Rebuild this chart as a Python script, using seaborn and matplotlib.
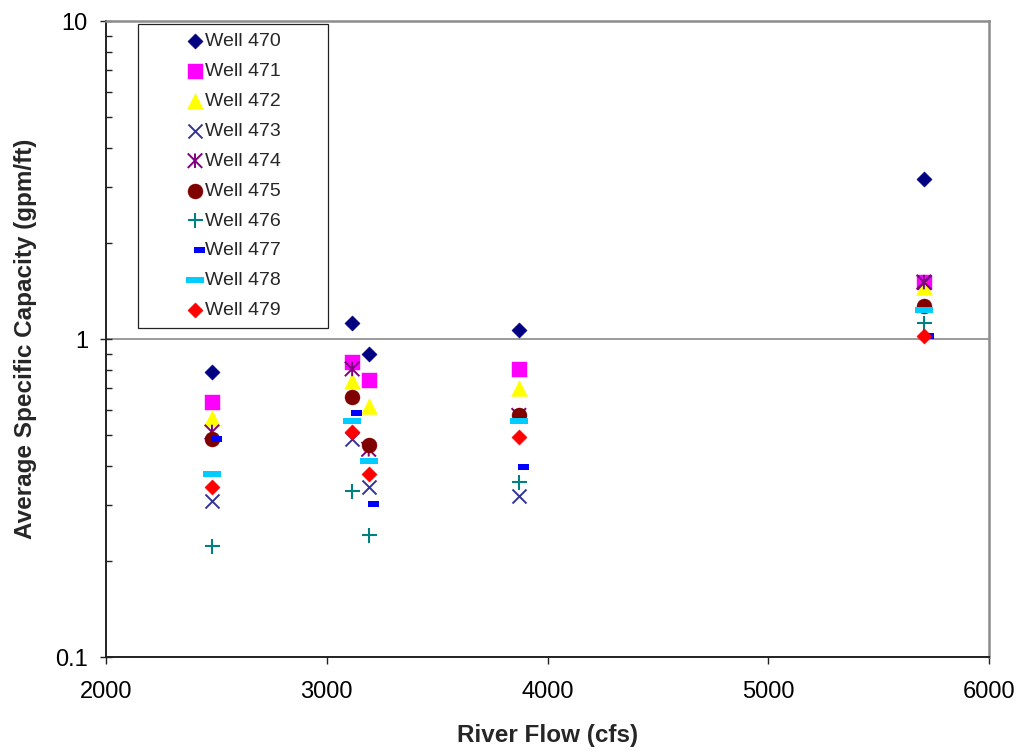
import numpy as np
import matplotlib
matplotlib.use("Agg")
import matplotlib.pyplot as plt
from matplotlib.path import Path
from matplotlib.ticker import FixedLocator, NullFormatter
import seaborn as sns

# River flow (cfs) for each measurement campaign
flow = [2480, 3115, 3190, 3870, 5705]

# Average specific capacity (gpm/ft) per well
well_470 = [0.79, 1.12, 0.90, 1.07, 3.18]
well_471 = [0.635, 0.845, 0.745, 0.805, 1.51]
well_472 = [0.565, 0.74, 0.615, 0.70, 1.46]
well_473 = [0.31, 0.485, 0.342, 0.322, 1.51]
well_474 = [0.51, 0.805, 0.45, 0.575, 1.51]
well_475 = [0.485, 0.656, 0.465, 0.577, 1.27]
well_476 = [0.223, 0.332, 0.242, 0.354, 1.12]
well_477 = [0.485, 0.587, 0.303, 0.397, 1.024]
well_478 = [0.376, 0.551, 0.414, 0.551, 1.236]
well_479 = [0.343, 0.509, 0.377, 0.493, 1.024]

well_names = ["Well 470", "Well 471", "Well 472", "Well 473", "Well 474",
              "Well 475", "Well 476", "Well 477", "Well 478", "Well 479"]
well_values = [well_470, well_471, well_472, well_473, well_474,
               well_475, well_476, well_477, well_478, well_479]

x_ticks = [2000, 3000, 4000, 5000, 6000]
y_ticks = [0.1, 1, 10]
y_tick_labels = ["0.1", "1", "10"]

sns.set_style("ticks")
plt.rcParams["font.family"] = ["Liberation Sans", "DejaVu Sans"]
plt.rcParams["ytick.direction"] = "in"
plt.rcParams["xtick.direction"] = "out"

# Custom marker shapes
asterisk = Path([(-1, -1), (1, 1), (-1, 1), (1, -1), (0, -1), (0, 1)],
                [Path.MOVETO, Path.LINETO, Path.MOVETO, Path.LINETO,
                 Path.MOVETO, Path.LINETO])
short_dash = Path([(-1, -2.7), (9.7, -2.7), (9.7, 2.7), (-1, 2.7), (-1, -2.7)],
                  [Path.MOVETO, Path.LINETO, Path.LINETO, Path.LINETO,
                   Path.CLOSEPOLY])
long_dash = Path([(-8.8, -2.6), (8.8, -2.6), (8.8, 2.6), (-8.8, 2.6), (-8.8, -2.6)],
                 [Path.MOVETO, Path.LINETO, Path.LINETO, Path.LINETO,
                  Path.CLOSEPOLY])

px = 0.72  # points per pixel at dpi=100
styles = [
    # marker, size (pt), colour, kind, line width
    ("D", 10.8 * px, "#000080", "filled", 0.3),
    ("s", 15 * px, "#FF00FF", "filled", 0.3),
    ("^", 16 * px, "#FFFF00", "filled", 0.3),
    ("x", 14 * px, "#333399", "line", 1.4),
    (asterisk, 14.5 * px, "#800080", "path", 1.4),
    ("o", 15 * px, "#800000", "filled", 0.3),
    ("+", 15 * px, "#008080", "line", 1.5),
    (short_dash, 19.4 * px, "#0000FF", "filled", 0.0),
    (long_dash, 17.6 * px, "#00CCFF", "filled", 0.0),
    ("D", 10.8 * px, "#FF0000", "filled", 0.3),
]

fig = plt.figure(figsize=(10.21, 7.51), dpi=100)
ax = fig.add_axes([106 / 1021, 1 - 657 / 751, 883 / 1021, 636 / 751])

for i, (name, vals) in enumerate(zip(well_names, well_values)):
    marker, size, color, kind, lw = styles[i]
    kws = dict(marker=marker, s=size ** 2, linewidth=lw, label=name, zorder=3 + i)
    if kind == "filled":
        kws.update(color=color, edgecolor=color)
    elif kind == "line":
        kws.update(color=color)
    else:
        kws.update(facecolor="none", edgecolor=color)
    sns.scatterplot(x=flow, y=vals, ax=ax, legend=False, **kws)

ax.set_yscale("log")
ax.set_xlim(2000, 6000)
ax.set_ylim(0.1, 10)

ax.xaxis.set_major_locator(FixedLocator(x_ticks))
ax.set_xticklabels([str(t) for t in x_ticks])
ax.yaxis.set_major_locator(FixedLocator(y_ticks))
ax.set_yticklabels(y_tick_labels)
minor = [m * 10.0 ** e for e in (-1, 0) for m in range(2, 10)]
ax.yaxis.set_minor_locator(FixedLocator(minor))
ax.yaxis.set_minor_formatter(NullFormatter())

ax.tick_params(axis="x", which="major", direction="out", length=5, width=1,
               color="#222222", labelsize=17, pad=12, labelcolor="black")
ax.tick_params(axis="y", which="major", direction="inout", length=8, width=1,
               color="#222222", labelsize=17, pad=9, labelcolor="black")
ax.tick_params(axis="y", which="minor", direction="in", length=4, width=1,
               color="#222222", left=True, right=False)

ax.grid(False)
ax.yaxis.grid(True, which="major", color="#808080", linewidth=1.1)

for side in ("left", "bottom"):
    ax.spines[side].set_color("#222222")
    ax.spines[side].set_linewidth(1.4)
for side in ("top", "right"):
    ax.spines[side].set_color("#8c8c8c")
    ax.spines[side].set_linewidth(1.8)
    ax.spines[side].set_visible(True)

ax.set_xlabel("River Flow (cfs)", fontsize=17.5, fontweight="bold")
ax.set_ylabel("Average Specific Capacity (gpm/ft)", fontsize=17.5, fontweight="bold")
ax.xaxis.set_label_coords(0.5, -0.106)
ax.yaxis.set_label_coords(-0.078, 0.5)

fs = 14
fs_px = fs / px
bp = 0.45
hl = (195 - 138 - bp * fs_px) / (fs_px / 2)
htp = (205 - (138 + bp * fs_px + hl * fs_px)) / fs_px
leg = ax.legend(loc="upper left",
                bbox_to_anchor=((138 - 106) / 883, 1 - (24 - 21) / 636,
                                190 / 883, 0.0),
                mode="expand", borderaxespad=0, borderpad=bp,
                handlelength=hl, handletextpad=htp, labelspacing=0.63,
                fontsize=fs, frameon=True, fancybox=False, framealpha=1,
                edgecolor="#222222", scatterpoints=1)
leg.get_frame().set_linewidth(0.9)

fig.savefig("out.png", dpi=100)
